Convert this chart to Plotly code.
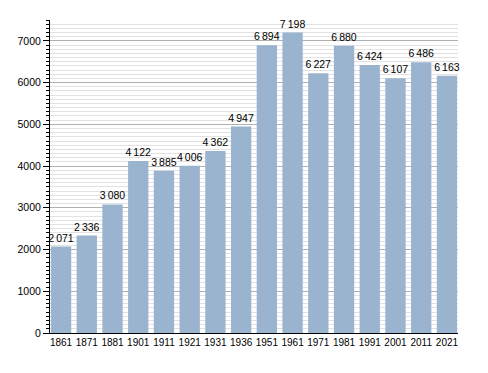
import plotly.graph_objects as go

years = ["1861", "1871", "1881", "1901", "1911", "1921", "1931", "1936", "1951",
         "1961", "1971", "1981", "1991", "2001", "2011", "2021"]
population = [2071, 2336, 3080, 4122, 3885, 4006, 4362, 4947, 6894,
              7198, 6227, 6880, 6424, 6107, 6486, 6163]

labels = [f"{v:,}".replace(",", "\u2009") for v in population]

fig = go.Figure(go.Bar(
    x=years, y=population,
    text=labels, textposition="outside", cliponaxis=False,
    constraintext="none",
    textfont=dict(family="Liberation Sans, Arial", size=10.5, color="black"),
    marker=dict(color="#9ab4d0", line=dict(width=0)),
    hoverinfo="x+y",
))

# page body has an 8px default margin, so the figure is offset by 8px
fig.update_layout(
    width=480, height=365,
    margin=dict(l=42, r=30, t=12, b=40, autoexpand=False),
    paper_bgcolor="white", plot_bgcolor="white",
    bargap=0.21,
    showlegend=False,
    font=dict(family="Liberation Sans, Arial", size=10.5, color="black"),
    xaxis=dict(
        type="category", range=[-0.43, 15.43], automargin=False,
        showline=True, linecolor="black", linewidth=1,
        ticks="", tickangle=0, tickfont=dict(size=10), showgrid=False,
    ),
    yaxis=dict(
        range=[0, 7500], dtick=1000, tickformat="d", automargin=False,
        showline=True, linecolor="black", linewidth=1,
        ticks="outside", ticklen=6, tickcolor="black",
        showgrid=True, gridcolor="#b0b0b0", gridwidth=1,
        zeroline=False,
        minor=dict(dtick=100, showgrid=True, gridcolor="#e2e2e2", gridwidth=1,
                   ticks="outside", ticklen=3, tickcolor="black"),
        tickfont=dict(size=10.5),
    ),
)

fig.write_html("out.html")
